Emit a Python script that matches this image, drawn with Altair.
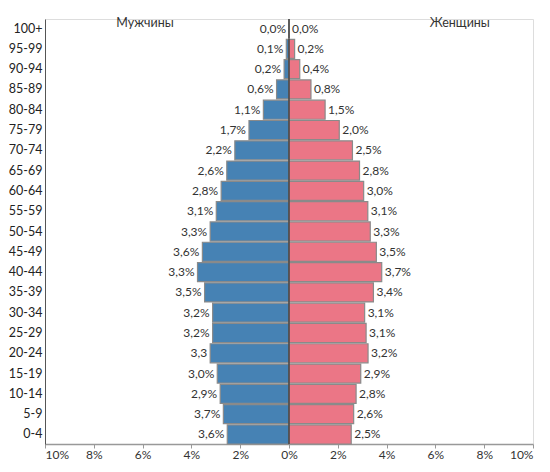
import altair as alt
import pandas as pd

ages = ["0-4", "5-9", "10-14", "15-19", "20-24", "25-29", "30-34", "35-39",
        "40-44", "45-49", "50-54", "55-59", "60-64", "65-69", "70-74",
        "75-79", "80-84", "85-89", "90-94", "95-99", "100+"]
male = [2.53, 2.69, 2.82, 2.94, 3.23, 3.13, 3.13, 3.46, 3.75, 3.55, 3.23,
        2.98, 2.78, 2.55, 2.22, 1.64, 1.05, 0.51, 0.2, 0.11, 0.0]
female = [2.55, 2.65, 2.75, 2.94, 3.24, 3.16, 3.1, 3.46, 3.8, 3.58, 3.33,
          3.23, 3.06, 2.89, 2.6, 2.06, 1.48, 0.9, 0.44, 0.23, 0.0]
male_labels = ["3,6%", "3,7%", "2,9%", "3,0%", "3,3", "3,2%", "3,2%", "3,5%",
               "3,3%", "3,6%", "3,3%", "3,1%", "2,8%", "2,6%", "2,2%", "1,7%",
               "1,1%", "0,6%", "0,2%", "0,1%", "0,0%"]
female_labels = ["2,5%", "2,6%", "2,8%", "2,9%", "3,2%", "3,1%", "3,1%", "3,4%",
                 "3,7%", "3,5%", "3,3%", "3,1%", "3,0%", "2,8%", "2,5%", "2,0%",
                 "1,5%", "0,8%", "0,4%", "0,2%", "0,0%"]
x_ticks = [-10, -8, -6, -4, -2, 0, 2, 4, 6, 8, 10]
sex_titles = ["Мужчины", "Женщины"]
title_pos = [-5.9, 7.0]

order = ages[::-1]
FONT = "Lato"

df_m = pd.DataFrame({"age": ages, "v": [-v for v in male], "lab": male_labels})
df_f = pd.DataFrame({"age": ages, "v": female, "lab": female_labels})
df_t = pd.DataFrame({"t": sex_titles, "x": title_pos, "age": ["100+", "100+"]})

xs = alt.Scale(domain=[-10, 10], nice=False)
ys = alt.Scale(domain=order, paddingInner=0.06, paddingOuter=0.0)

xenc = alt.X("v:Q", scale=xs, axis=alt.Axis(
    values=x_ticks, labelExpr="abs(datum.value) + '%'", title=None, grid=False,
    domainColor="#999999", domainWidth=1.5, tickColor="#999999", tickSize=4,
    labelFont=FONT, labelFontSize=12, labelColor="#333333", labelPadding=1,
    labelOverlap=False))
yenc = alt.Y("age:N", scale=ys, sort=order, axis=alt.Axis(
    title=None, ticks=False, domainColor="#555555", domainWidth=1,
    labelFont=FONT, labelFontSize=12.5, labelColor="#222222", labelPadding=3))

bars_m = alt.Chart(df_m).mark_bar(color="#4682b4", stroke="#8a8a8a", strokeWidth=1.2).encode(x=xenc, y=yenc)
bars_f = alt.Chart(df_f).mark_bar(color="#eb7686", stroke="#8a8a8a", strokeWidth=1.2).encode(
    x=alt.X("v:Q", scale=xs), y=alt.Y("age:N", scale=ys, sort=order))

txt_m = alt.Chart(df_m).mark_text(align="right", dx=-3, font=FONT, fontSize=12, color="#333333").encode(
    x=alt.X("v:Q", scale=xs), y=alt.Y("age:N", scale=ys, sort=order), text="lab:N")
txt_f = alt.Chart(df_f).mark_text(align="left", dx=3, font=FONT, fontSize=12, color="#333333").encode(
    x=alt.X("v:Q", scale=xs), y=alt.Y("age:N", scale=ys, sort=order), text="lab:N")

center = alt.Chart(pd.DataFrame({"v": [0]})).mark_rule(color="#333333", strokeWidth=1.2).encode(
    x=alt.X("v:Q", scale=xs))

titles = alt.Chart(df_t).mark_text(font=FONT, fontSize=12.5, color="#333333", dy=-6).encode(
    x=alt.X("x:Q", scale=xs), y=alt.Y("age:N", scale=ys, sort=order), text="t:N")

chart = alt.layer(bars_m, bars_f, center, txt_m, txt_f, titles).properties(
    width=488, height=425,
    autosize=alt.AutoSizeParams(type="none"),
    padding={"left": 37, "top": 11, "right": 9, "bottom": 20},
).configure_view(stroke=None).configure(background="white")

chart.save("out.html", embed_options={"renderer": "svg", "actions": False})
